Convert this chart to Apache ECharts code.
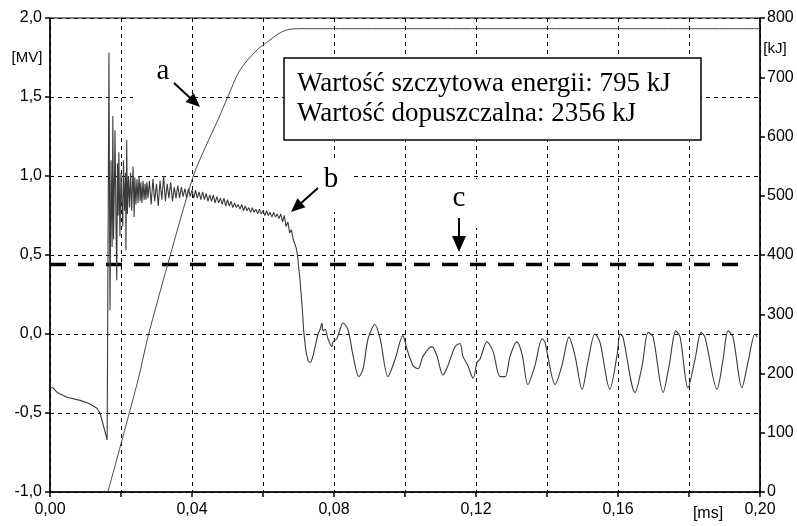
<!DOCTYPE html>
<html>
<head>
<meta charset="utf-8">
<script src="https://cdn.jsdelivr.net/npm/echarts@6/dist/echarts.min.js"></script>
<style>
html,body{margin:0;padding:0;background:#fff;}
#chart{width:797px;height:526px;}
</style>
</head>
<body>
<div id="chart"></div>
<script>
// ---- data (time in ms) ----
const preTrigger = [[0,-0.34],[0.0008,-0.34],[0.002,-0.37],[0.0048,-0.40],[0.0085,-0.42],[0.011,-0.44],[0.0132,-0.47],[0.0141,-0.50],[0.0161,-0.67]];
const spikeBurst = [[0.0166,1.78],[0.0169,0.15],[0.0172,1.10],[0.0175,0.55],[0.0177,1.38],[0.0179,0.60],[0.0182,1.05],[0.0183,1.29],[0.0186,0.70],[0.0188,0.34],[0.0190,1.08],[0.0192,0.75],[0.0194,1.15],[0.0197,0.62],[0.0200,1.02],[0.0203,0.80],[0.0205,0.68],[0.0207,1.10],[0.0210,0.78],[0.0213,1.02],[0.0214,0.53],[0.0216,1.23],[0.0218,0.76],[0.0221,1.00],[0.0224,0.80],[0.0227,1.02],[0.0230,0.78],[0.0234,1.06],[0.0237,0.74],[0.0239,0.99],[0.0242,0.82],[0.0245,0.98],[0.0248,0.83],[0.0251,1.00],[0.0254,0.84],[0.0256,0.96],[0.0259,0.83],[0.0262,0.97],[0.0265,0.85],[0.0268,0.95],[0.0270,0.85],[0.0273,0.96],[0.0276,0.86]];
const plateau = [[0.0280,0.97],[0.0285,0.82],[0.0290,0.98],[0.0295,0.84],[0.0300,0.95],[0.0305,0.81],[0.0310,0.97],[0.0315,0.85],[0.0320,1.00],[0.0325,0.84],[0.0330,0.95],[0.0335,0.86],[0.0340,0.96],[0.0345,0.84],[0.0350,0.93],[0.0355,0.86],[0.0360,0.94],[0.0365,0.86],[0.0370,0.93],[0.0375,0.87],[0.0380,0.92],[0.0385,0.86],[0.0390,0.92],[0.0395,0.87],[0.0400,0.91],[0.0405,0.86],[0.0410,0.91],[0.0415,0.86],[0.0420,0.90],[0.0425,0.85],[0.0430,0.90],[0.0435,0.85],[0.0440,0.89],[0.0445,0.84],[0.0450,0.88],[0.0455,0.84],[0.0460,0.88],[0.0465,0.83],[0.0470,0.87],[0.0475,0.83],[0.0480,0.86],[0.0485,0.82],[0.0490,0.86],[0.0495,0.81],[0.0500,0.85],[0.0505,0.81],[0.0510,0.84],[0.0515,0.80],[0.0520,0.83],[0.0525,0.80],[0.0530,0.82],[0.0535,0.79],[0.0540,0.82],[0.0545,0.78],[0.0550,0.81],[0.0555,0.78],[0.0560,0.80],[0.0565,0.77],[0.0570,0.80],[0.0575,0.77],[0.0580,0.79],[0.0585,0.76],[0.0590,0.79],[0.0595,0.76],[0.0600,0.78],[0.0605,0.75],[0.0610,0.78],[0.0615,0.75],[0.0620,0.77],[0.0625,0.74],[0.0630,0.77],[0.0635,0.74],[0.0640,0.76],[0.0645,0.73],[0.0650,0.76]];
const collapse = [[0.0655,0.71],[0.0660,0.75],[0.0665,0.68],[0.0670,0.71],[0.0675,0.64],[0.0680,0.66],[0.0685,0.60],[0.0690,0.59],[0.0694,0.54],[0.0697,0.50],[0.0704,0.35],[0.0710,0.18],[0.0715,0.01],[0.0721,-0.11],[0.0727,-0.17]];
const ringing = [[0.0727,-0.17],[0.0733,-0.18],[0.0738,-0.16],[0.0746,-0.09],[0.0755,0.00],[0.0761,0.03],[0.0766,0.07],[0.0769,0.02],[0.0775,0.03],[0.0783,-0.03],[0.0794,-0.08],[0.0797,-0.05],[0.0808,-0.03],[0.0817,0.03],[0.0825,0.07],[0.0839,0.03],[0.0854,-0.14],[0.0870,-0.27],[0.0882,-0.22],[0.0896,-0.03],[0.0915,0.06],[0.0930,-0.03],[0.0952,-0.27],[0.0972,-0.16],[0.0994,-0.01],[0.1006,-0.10],[0.1023,-0.20],[0.1037,-0.22],[0.1051,-0.14],[0.1076,-0.08],[0.1090,-0.14],[0.1107,-0.26],[0.1121,-0.20],[0.1141,-0.08],[0.1155,-0.06],[0.1163,-0.14],[0.1177,-0.20],[0.1192,-0.28],[0.1203,-0.18],[0.1211,-0.16],[0.1231,-0.05],[0.1248,-0.11],[0.1268,-0.27],[0.1282,-0.27],[0.1296,-0.14],[0.1315,-0.05],[0.1330,-0.13],[0.1346,-0.32],[0.1366,-0.20],[0.1386,-0.03],[0.1394,-0.05],[0.1423,-0.32],[0.1442,-0.20],[0.1462,-0.02],[0.1479,-0.14],[0.1499,-0.35],[0.1515,-0.18],[0.1535,0.00],[0.1549,-0.05],[0.1577,-0.35],[0.1597,-0.14],[0.1606,0.00],[0.1614,-0.02],[0.1648,-0.37],[0.1668,-0.20],[0.1685,0.01],[0.1699,-0.02],[0.1727,-0.37],[0.1744,-0.20],[0.1763,0.02],[0.1775,-0.02],[0.1797,-0.34],[0.1817,-0.16],[0.1834,0.01],[0.1845,-0.02],[0.1879,-0.35],[0.1896,-0.16],[0.1910,0.02],[0.1924,-0.02],[0.1949,-0.34],[0.1966,-0.18],[0.1986,0.00],[0.1992,-0.02]];
const energyKJ = [[0.0163,0],[0.0248,189],[0.0276,262],[0.0332,385],[0.0403,532],[0.0440,585],[0.0473,628],[0.0501,667],[0.0535,712],[0.0583,746],[0.0611,759],[0.0648,775],[0.0676,781],[0.0720,782],[0.2,782]];
const permissibleLine = [[0,0.44],[0.194,0.44]];
const boxLines = ['Wartość szczytowa energii: 795 kJ','Wartość dopuszczalna: 2356 kJ'];

const voltageMV = preTrigger.concat(spikeBurst, plateau, collapse);

const chart = echarts.init(document.getElementById('chart'), null, {renderer:'canvas'});
const sans = '"Liberation Sans", Arial, sans-serif';
const serif = '"Liberation Serif", "Times New Roman", serif';
const comma = (v, d) => v.toFixed(d).replace('.', ',');

function arrow(x1,y1,x2,y2,len,hw){
  const dx=x2-x1, dy=y2-y1, L=Math.hypot(dx,dy), ux=dx/L, uy=dy/L;
  const bx=x2-ux*len, by=y2-uy*len, px=-uy, py=ux;
  return [
    {type:'line', shape:{x1:x1,y1:y1,x2:bx,y2:by}, style:{stroke:'#000',lineWidth:2}, z:100},
    {type:'polygon', shape:{points:[[x2,y2],[bx+px*hw,by+py*hw],[bx-px*hw,by-py*hw]]}, style:{fill:'#000'}, z:100}
  ];
}

const graphics = [
  {type:'rect', shape:{x:133,y:62,width:56,height:42}, style:{fill:'#fff'}, z:50},
  {type:'rect', shape:{x:305,y:160,width:45,height:52}, style:{fill:'#fff'}, z:50},
  {type:'rect', shape:{x:430,y:179,width:62,height:49}, style:{fill:'#fff'}, z:50},
  {type:'rect', shape:{x:284,y:58,width:417,height:82}, style:{fill:'#fff',stroke:'#000',lineWidth:1.5}, z:60},
  {type:'text', x:297, y:84, style:{text:boxLines[0], font:'27px '+serif, fill:'#000', textVerticalAlign:'middle'}, z:61},
  {type:'text', x:297, y:114, style:{text:boxLines[1], font:'27px '+serif, fill:'#000', textVerticalAlign:'middle'}, z:61},
  {type:'text', x:163, y:86, style:{text:'a', font:'29px '+serif, fill:'#000', textAlign:'center', textVerticalAlign:'bottom'}, z:101},
  {type:'text', x:331, y:194, style:{text:'b', font:'29px '+serif, fill:'#000', textAlign:'center', textVerticalAlign:'bottom'}, z:101},
  {type:'text', x:459, y:213, style:{text:'c', font:'29px '+serif, fill:'#000', textAlign:'center', textVerticalAlign:'bottom'}, z:101},
  {type:'text', x:27, y:58, style:{text:'[MV]', font:'15px '+sans, fill:'#000', textAlign:'center', textVerticalAlign:'middle'}, z:101},
  {type:'text', x:775, y:49, style:{text:'[kJ]', font:'15px '+sans, fill:'#000', textAlign:'center', textVerticalAlign:'middle'}, z:101},
  {type:'text', x:708, y:514, style:{text:'[ms]', font:'16px '+sans, fill:'#000', textAlign:'center', textVerticalAlign:'middle'}, z:101}
].concat(arrow(174,83,200,107,14,6), arrow(318,188,291,212,14,6), arrow(459,218,459,252,16,7));

const lineColor = '#3a3a3a';
const option = {
  animation:false,
  backgroundColor:'#fff',
  grid:{left:50,right:37,top:18,bottom:34,show:true,borderColor:'#000',borderWidth:1,backgroundColor:'transparent'},
  xAxis:{
    type:'value',min:0,max:0.2,interval:0.02,
    axisLine:{onZero:false,lineStyle:{color:'#000',width:1.5}},
    axisTick:{length:5,lineStyle:{color:'#000',width:1.5}},
    axisLabel:{fontSize:16,color:'#000',fontFamily:sans,margin:10,
      formatter:v=>{const k=Math.round(v*100);return k%4===0?comma(v,2):'';}},
    splitLine:{show:true,lineStyle:{type:[4,4],color:'#000',width:1}}
  },
  yAxis:[
    {type:'value',min:-1,max:2,interval:0.5,position:'left',
     axisLine:{show:true,onZero:false,lineStyle:{color:'#000',width:1.5}},
     axisTick:{show:true,length:5,lineStyle:{color:'#000',width:1.5}},
     axisLabel:{fontSize:16,color:'#000',fontFamily:sans,margin:8,formatter:v=>comma(v,1)},
     splitLine:{show:true,lineStyle:{type:[4,4],color:'#000',width:1}}},
    {type:'value',min:0,max:800,interval:100,position:'right',
     axisLine:{show:true,onZero:false,lineStyle:{color:'#000',width:1.5}},
     axisTick:{show:true,length:5,lineStyle:{color:'#000',width:1.5}},
     axisLabel:{fontSize:16,color:'#000',fontFamily:sans,margin:7},
     splitLine:{show:false}}
  ],
  series:[
    {name:'c',type:'line',yAxisIndex:0,data:permissibleLine,symbol:'none',
     lineStyle:{color:'#000',width:3.5,type:[16,12]},z:3},
    {name:'b',type:'line',yAxisIndex:0,data:voltageMV,symbol:'none',
     lineStyle:{color:lineColor,width:1.1},z:4},
    {name:'b-ringing',type:'line',yAxisIndex:0,data:ringing,symbol:'none',smooth:0.3,
     lineStyle:{color:lineColor,width:1.1},z:4},
    {name:'a',type:'line',yAxisIndex:1,data:energyKJ,symbol:'none',smooth:0.3,
     lineStyle:{color:'#4a4a4a',width:1},z:5}
  ],
  graphic:graphics
};
chart.setOption(option);
</script>
</body>
</html>
